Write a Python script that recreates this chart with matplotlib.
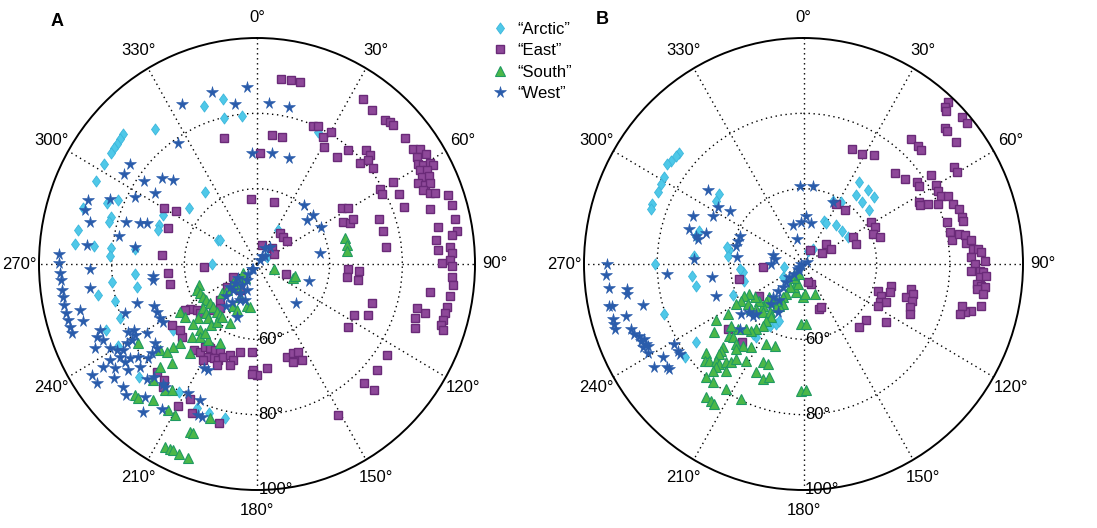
import numpy as np
import matplotlib
matplotlib.use("Agg")
import matplotlib.pyplot as plt
from matplotlib.lines import Line2D
from matplotlib.path import Path

plt.rcParams['font.family'] = ['Liberation Sans', 'DejaVu Sans']

# (angle in degrees, radius); radius axis runs 40..100
a_arctic = [(340.8, 84.5), (347.9, 84.7), (346.9, 79.7), (353.8, 79.5), (322.0, 85.5), (313.1, 90.4),
            (311.3, 90.2), (309.6, 90.1), (307.9, 90.0), (306.2, 89.8), (302.2, 89.7), (296.3, 89.5),
            (323.0, 63.8), (308.5, 63.8), (296.7, 68.9), (291.1, 68.8), (288.3, 68.6), (294.0, 81.8),
            (291.3, 84.4), (287.1, 90.2), (287.4, 82.1), (285.2, 82.1), (280.3, 90.2), (276.0, 90.3),
            (276.1, 85.2), (276.0, 80.5), (273.0, 80.4), (276.6, 73.8), (301.1, 52.4), (270.0, 52.3),
            (263.3, 80.3), (265.4, 73.7), (259.4, 73.7), (259.4, 84.5), (255.9, 80.3), (249.1, 80.4),
            (247.2, 85.1), (240.3, 84.2), (232.7, 68.9), (227.3, 84.1), (212.4, 80.1), (203.2, 81.7),
            (198.3, 81.7), (192.1, 81.9), (57.3, 43.3), (33.2, 50.8), (25.7, 79.0), (302.5, 52.0)]

a_east = [(7.7, 89.5), (10.8, 89.6), (13.7, 89.6), (33.7, 92.8), (37.7, 91.7), (42.7, 91.9), (44.1, 92.6),
          (45.5, 92.6), (50.6, 92.6), (54.7, 92.7), (55.8, 94.1), (57.0, 92.4), (57.9, 94.9), (59.0, 91.8),
          (60.1, 92.8), (60.7, 94.6), (61.5, 95.2), (60.9, 91.4), (61.8, 93.0), (62.9, 90.9), (63.6, 92.7),
          (64.3, 89.3), (65.6, 90.8), (65.8, 92.2), (66.8, 89.8), (68.3, 91.2), (68.9, 92.5), (70.7, 95.8),
          (73.7, 95.8), (77.7, 95.8), (78.8, 90.9), (82.6, 89.8), (81.1, 95.8), (81.8, 94.1), (85.0, 93.3),
          (85.8, 90.0), (87.0, 93.7), (88.8, 93.1), (89.8, 90.8), (90.7, 93.6), (93.6, 93.7), (95.9, 94.2),
          (99.0, 93.8), (99.0, 88.2), (102.2, 93.4), (104.2, 93.3), (106.2, 93.4), (107.7, 93.3),
          (108.8, 94.2), (108.3, 85.8), (111.5, 86.7), (105.8, 88.0), (105.0, 85.5),
          (22.7, 79.7), (24.8, 80.3), (28.2, 78.3), (30.5, 76.2), (30.2, 80.4), (37.8, 76.1), (39.5, 79.3),
          (46.4, 79.0), (44.7, 82.6), (47.1, 82.5), (48.0, 81.2), (51.6, 80.9), (59.7, 83.4), (59.7, 79.3),
          (61.7, 79.0), (64.7, 83.3), (69.4, 83.2), (73.0, 89.8), (57.6, 67.6), (59.5, 69.2), (64.8, 66.3),
          (67.1, 67.8), (65.5, 69.1), (70.5, 75.7), (75.8, 75.9), (82.9, 75.8), (92.8, 65.1), (97.8, 65.1),
          (93.7, 68.2), (98.6, 68.2), (108.2, 73.3), (113.8, 73.5), (116.8, 69.9), (123.9, 70.1),
          (124.1, 83.1), (130.2, 83.4), (137.2, 83.2), (136.1, 86.6), (151.0, 85.8),
          (344.8, 74.7), (1.5, 69.6), (6.7, 74.6), (11.7, 74.5), (354.4, 57.3), (16.3, 57.1), (37.9, 50.3),
          (45.4, 50.1), (53.2, 50.4), (43.6, 45.8), (14.6, 45.2), (60.1, 45.4), (108.7, 48.4), (267.3, 54.6),
          (275.2, 66.3), (300.1, 69.5), (302.3, 66.4), (291.1, 66.4), (264.1, 64.5), (257.5, 64.5),
          (237.3, 61.9), (238.4, 63.3), (233.7, 60.6), (230.2, 60.4), (224.5, 57.1), (220.8, 55.6),
          (235.4, 68.5), (227.0, 68.3), (230.5, 67.5), (217.5, 68.7), (214.0, 68.1), (213.1, 66.2),
          (209.9, 65.8), (207.0, 65.6), (203.6, 65.4), (208.6, 68.0), (205.6, 67.7), (202.6, 67.6),
          (200.7, 66.3), (197.0, 65.3), (194.3, 66.3), (191.4, 63.8), (183.6, 63.5), (195.4, 67.8),
          (202.5, 69.0), (210.1, 69.5), (182.0, 68.1), (180.2, 69.5), (182.9, 69.2), (174.4, 67.8),
          (161.6, 65.9), (157.1, 65.7), (153.9, 65.9), (154.3, 68.3), (158.9, 67.8), (207.3, 80.2),
          (209.9, 83.5), (204.4, 83.5), (194.1, 83.4), (219.6, 80.0), (223.8, 79.9), (218.4, 81.6),
          (242.4, 47.3), (234.1, 50.3), (226.7, 54.0), (214.3, 48.3)]

a_south = [(73.9, 65.2), (78.6, 65.2), (82.0, 65.1), (106.3, 45.0), (110.8, 50.7), (107.0, 51.0),
           (250.8, 57.0), (247.4, 58.0), (243.6, 57.5), (239.6, 57.2), (235.4, 56.9), (231.1, 56.6),
           (226.7, 56.5), (221.2, 56.9), (217.1, 56.9), (231.4, 58.9), (226.7, 59.1), (222.9, 59.7),
           (228.2, 61.6), (227.9, 63.6), (221.9, 63.5), (217.7, 60.5), (216.0, 58.9), (214.7, 57.0),
           (205.1, 57.4), (231.2, 52.4), (230.3, 50.8), (231.9, 48.3), (223.0, 48.2), (208.4, 49.9),
           (194.1, 51.6), (189.7, 51.5), (209.9, 53.0), (204.6, 53.4), (239.1, 64.7), (234.7, 64.2),
           (223.0, 66.4), (219.1, 64.9), (213.6, 64.2), (225.1, 69.9), (226.4, 71.8), (229.5, 75.1),
           (226.9, 74.1), (217.8, 70.0), (205.8, 63.4), (217.9, 63.3), (237.2, 78.9), (224.4, 78.2),
           (221.7, 75.3), (222.8, 82.0), (224.0, 88.4), (222.5, 88.4), (218.3, 86.0), (217.1, 82.0),
           (215.1, 80.9), (212.2, 85.8), (209.4, 86.0), (202.5, 88.2), (201.5, 88.3), (207.5, 94.7),
           (205.9, 94.7), (205.0, 94.5), (203.0, 94.7), (200.2, 94.8), (197.5, 83.0), (221.0, 45.0),
           (236.0, 44.5), (228.0, 46.5)]

a_west = [(356.6, 87.0), (344.8, 87.2), (334.0, 87.2), (351.9, 82.9), (4.6, 82.8), (11.8, 82.7),
          (325.9, 78.7), (357.5, 69.6), (7.8, 69.7), (17.5, 69.6), (307.1, 83.9), (303.1, 83.7),
          (305.2, 78.0), (311.0, 74.6), (313.9, 72.2), (303.9, 73.9), (298.0, 78.1), (290.0, 89.6),
          (293.0, 84.0), (286.8, 89.4), (283.7, 87.3), (287.2, 77.8), (288.5, 74.0), (289.9, 72.3),
          (281.2, 78.7), (276.1, 87.0), (277.8, 73.9), (272.9, 94.5), (270.2, 94.4), (267.4, 94.3),
          (265.5, 94.2), (262.7, 94.2), (260.7, 94.0), (258.4, 94.2), (256.0, 94.2), (254.0, 94.0),
          (252.1, 94.1), (250.2, 94.2), (268.3, 86.1), (262.0, 86.4), (255.9, 90.2), (252.3, 90.2),
          (252.5, 74.5), (250.2, 78.6), (263.6, 68.7), (261.6, 68.8), (248.4, 70.4), (245.3, 70.4),
          (241.7, 70.3), (239.3, 70.0), (247.9, 86.6), (246.4, 88.1), (244.5, 86.9), (243.3, 89.9),
          (241.1, 86.3), (239.4, 84.8), (243.0, 79.7), (242.8, 78.2), (240.8, 78.5), (239.7, 80.0),
          (239.6, 81.6), (238.2, 83.3), (236.9, 85.0), (234.5, 84.6), (234.5, 83.0), (233.0, 80.9),
          (238.8, 75.5), (233.1, 75.1), (231.1, 75.5), (230.7, 77.5), (230.1, 79.0), (229.7, 82.2),
          (237.8, 87.9), (237.2, 90.3), (234.7, 87.9), (231.6, 85.2), (232.4, 89.8), (228.5, 89.2),
          (237.0, 94.2), (234.3, 94.3), (225.0, 83.0), (223.6, 81.3), (219.1, 80.9), (217.8, 81.3),
          (221.2, 86.8), (226.1, 90.1), (218.6, 90.2), (214.2, 86.7), (208.9, 79.2), (203.5, 79.4),
          (207.8, 71.3), (205.5, 71.1), (201.9, 83.2), (200.6, 83.3), (201.8, 55.1), (199.0, 50.1),
          (211.1, 49.1), (223.3, 49.5), (230.9, 49.5), (213.7, 45.0), (219.8, 41.6), (36.0, 41.4),
          (27.6, 44.7), (38.0, 45.8), (39.4, 60.3), (50.0, 60.2), (49.5, 58.0), (61.1, 60.1),
          (80.2, 57.6), (107.4, 55.1), (134.2, 54.9), (233.3, 46.4), (230.1, 47.9), (216.9, 47.0),
          (223.8, 43.5), (206.1, 50.7), (215.0, 52.2), (202.1, 47.4), (225.0, 52.0), (218.0, 54.0),
          (30.0, 42.5), (45.0, 43.0), (228.0, 42.0)]

b_arctic = [(310.9, 85.2), (309.5, 85.2), (307.0, 85.5), (305.5, 85.7), (301.1, 84.5), (298.5, 84.4),
            (295.5, 84.2), (291.1, 84.3), (289.3, 84.2), (309.0, 69.6), (305.1, 69.2), (287.2, 69.8),
            (284.3, 70.3), (274.0, 70.1), (264.2, 70.5), (258.8, 70.0), (280.3, 60.6), (276.1, 60.8),
            (262.5, 56.7), (254.8, 56.8), (246.9, 60.9), (270.0, 80.5), (250.8, 80.5), (234.7, 76.0),
            (232.7, 80.6), (213.7, 63.4), (209.6, 58.8), (205.3, 57.6), (203.7, 56.4), (225.3, 53.8),
            (238.4, 46.7), (19.4, 43.6), (33.0, 44.8), (25.6, 52.7), (29.9, 52.5), (40.6, 53.7),
            (50.6, 53.7), (59.6, 54.0), (25.5, 58.6), (32.1, 59.4), (38.2, 63.3), (44.1, 63.1),
            (51.4, 62.9), (35.0, 66.5), (41.9, 66.4), (47.0, 66.2), (216.8, 63.2), (260.0, 45.3),
            (282.0, 61.5), (266.0, 57.5)]

b_east = [(42.6, 98.3), (42.9, 96.8), (43.8, 96.4), (48.0, 98.4), (49.9, 98.3), (47.0, 92.8), (48.2, 92.8),
          (52.0, 92.8), (41.6, 84.4), (44.9, 84.3), (46.7, 84.2), (23.6, 73.2), (28.7, 73.3), (33.6, 74.7),
          (57.9, 88.5), (59.8, 88.4), (45.9, 74.7), (50.8, 75.7), (54.9, 77.8), (56.7, 77.8), (55.9, 82.0),
          (59.8, 81.9), (62.1, 81.6), (64.2, 81.6), (66.6, 80.1), (62.6, 75.6), (63.6, 75.5), (65.0, 77.6),
          (65.6, 83.4), (68.8, 83.8), (71.1, 85.0), (74.1, 80.9), (74.1, 85.1), (75.5, 85.1), (77.9, 80.9),
          (81.0, 81.0), (79.4, 83.3), (80.1, 84.8), (82.8, 84.8), (82.1, 86.3), (85.1, 86.4), (85.2, 88.0),
          (86.3, 88.6), (87.6, 85.9), (90.0, 86.8), (89.0, 89.6), (92.2, 85.9), (92.1, 88.2), (92.6, 89.2),
          (94.2, 88.3), (93.5, 90.1), (96.4, 87.6), (96.8, 89.0), (97.1, 90.0), (97.9, 87.8), (99.3, 89.6),
          (103.1, 89.7), (105.1, 87.5), (106.2, 85.9), (104.4, 84.6), (107.3, 84.7), (29.2, 58.2),
          (38.3, 58.1), (59.0, 61.6), (63.6, 61.8), (67.2, 60.6), (71.1, 62.0), (62.3, 55.3), (69.8, 55.3),
          (49.5, 48.2), (62.2, 48.6), (61.2, 45.8), (26.0, 44.1), (257.1, 58.0), (265.4, 51.1),
          (158.4, 45.7), (160.6, 52.6), (157.3, 52.5), (109.2, 61.6), (111.5, 62.9), (103.6, 64.7),
          (107.6, 64.8), (116.1, 63.2), (114.3, 64.8), (118.6, 63.2), (107.5, 69.3), (102.6, 70.2),
          (105.0, 70.9), (108.2, 71.1), (111.6, 71.2), (114.6, 71.9), (131.2, 62.6), (137.7, 62.7),
          (124.6, 67.3), (235.5, 54.8), (230.1, 67.0), (218.9, 66.7), (166.2, 45.0)]

b_south = [(182.2, 55.9), (177.5, 55.9), (159.0, 48.4), (181.3, 48.8), (177.9, 48.0), (194.9, 47.8),
           (202.0, 46.7), (196.8, 45.5), (211.5, 47.3), (210.4, 49.3), (212.9, 50.5), (208.3, 52.0),
           (210.7, 52.9), (217.7, 52.3), (226.6, 52.8), (225.0, 54.4), (225.0, 55.7), (231.3, 55.5),
           (236.7, 56.0), (241.6, 56.8), (242.6, 58.2), (240.4, 59.7), (240.1, 61.2), (235.3, 58.6),
           (230.2, 58.6), (227.5, 57.6), (220.9, 56.9), (216.0, 55.8), (213.1, 53.7), (212.1, 56.7),
           (214.2, 58.2), (214.1, 59.8), (216.9, 61.6), (218.9, 62.7), (222.2, 63.3), (226.1, 65.0),
           (230.4, 65.7), (237.3, 64.6), (237.9, 68.2), (233.4, 70.4), (226.9, 67.8), (224.8, 67.5),
           (220.9, 68.1), (225.0, 71.3), (217.4, 67.3), (219.2, 69.1), (224.5, 72.2), (223.9, 73.2),
           (228.6, 75.6), (226.5, 77.3), (225.1, 76.4), (222.9, 75.1), (221.0, 75.1), (219.1, 73.6),
           (217.2, 72.8), (216.1, 71.2), (211.4, 70.1), (203.0, 68.4), (200.3, 68.3), (204.3, 71.6),
           (200.0, 72.5), (197.2, 71.5), (216.8, 75.4), (221.1, 76.4), (221.2, 77.6), (221.6, 80.2),
           (218.3, 80.0), (212.6, 79.4), (205.5, 79.7), (217.0, 84.3), (214.9, 84.2), (213.3, 84.5),
           (181.0, 73.6), (178.8, 73.5), (212.9, 66.3), (205.7, 63.5), (200.0, 63.1), (215.0, 44.5),
           (222.0, 44.0), (205.0, 43.0)]

b_west = [(270.0, 93.6), (267.0, 94.0), (263.1, 93.6), (258.2, 94.4), (258.0, 93.4), (254.3, 94.1),
          (253.0, 94.2), (251.4, 94.3), (262.2, 88.8), (260.8, 89.0), (254.2, 90.3), (256.1, 85.3),
          (249.9, 90.3), (248.1, 89.9), (247.1, 88.8), (245.4, 88.9), (245.5, 87.9), (243.8, 88.0),
          (242.9, 87.6), (243.3, 89.2), (241.1, 88.7), (236.1, 89.2), (237.2, 85.8), (233.6, 86.2),
          (232.8, 86.1), (239.0, 81.2), (236.1, 81.2), (234.7, 81.4), (306.8, 72.7), (293.0, 72.7),
          (297.3, 67.9), (302.6, 67.9), (304.9, 64.5), (286.6, 72.6), (284.3, 70.3), (282.8, 69.7),
          (286.9, 67.9), (293.2, 59.0), (289.0, 59.0), (284.9, 59.0), (272.5, 69.9), (265.8, 77.3),
          (262.1, 65.3), (250.6, 65.3), (276.0, 58.4), (357.0, 60.8), (7.1, 61.0), (3.1, 52.8),
          (344.4, 50.8), (356.9, 51.1), (11.0, 51.0), (344.7, 46.8), (287.0, 48.6), (279.3, 48.0),
          (270.0, 48.9), (270.0, 40.6), (231.0, 42.1), (222.8, 43.7), (227.4, 45.2), (223.8, 46.8),
          (222.6, 48.4), (224.6, 50.0), (214.2, 51.7), (223.7, 52.2), (225.4, 59.5), (232.1, 61.7),
          (229.1, 59.6), (224.4, 58.6), (225.3, 64.6), (208.7, 54.6), (220.0, 53.8), (26.0, 58.2),
          (240.0, 41.5), (215.0, 42.0), (60.0, 41.0)]

theta_ticks = list(range(0, 360, 30))
r_rings = [60, 80]
r_labels = [60, 80, 100]
series_names = ['\u201cArctic\u201d', '\u201cEast\u201d', '\u201cSouth\u201d', '\u201cWest\u201d']

diamond = Path([(0, 1), (0.72, 0), (0, -1), (-0.72, 0), (0, 1)],
               [Path.MOVETO, Path.LINETO, Path.LINETO, Path.LINETO, Path.CLOSEPOLY])

styles = [
    dict(marker=diamond, ms=8, mfc='#4fc8e8', mec='#3bb6dc', mew=0.6),
    dict(marker='s', ms=5.5, mfc='#8e4899', mec='#6a2a78', mew=1.0),
    dict(marker='^', ms=7, mfc='#4cb848', mec='#1f9a62', mew=0.8),
    dict(marker='*', ms=8.5, mfc='#2a5cab', mec='#2a5cab', mew=0.4),
]

fig = plt.figure(figsize=(10.97, 5.28), dpi=100)


def panel(rect, groups, letter, letter_xy):
    ax = fig.add_axes(rect, projection='polar')
    ax.set_aspect('auto')
    ax.set_theta_zero_location('N')
    ax.set_theta_direction(-1)
    ax.set_rlim(40, 100)
    ax.set_thetagrids(theta_ticks, labels=[])
    ax.set_rgrids(r_rings, labels=[])
    ax.grid(True, color='k', ls=(0, (1, 2.6)), lw=1.0)
    ax.spines['polar'].set_linewidth(1.4)
    ax.tick_params(length=0)
    for pts, st in zip(groups, styles):
        th = np.radians([p[0] for p in pts])
        rr = [p[1] for p in pts]
        ax.plot(th, rr, ls='none', clip_on=False, **st)
    for t in theta_ticks:
        ax.text(np.radians(t), 105.4, f'{t}\u00b0', ha='center', va='center', fontsize=12)
    for r in r_labels:
        ax.annotate(f'{r}\u00b0', xy=(np.pi, r), xytext=(1, 0), textcoords='offset points',
                    ha='left', va='center', fontsize=12)
    fig.text(letter_xy[0], letter_xy[1], letter, fontsize=13, fontweight='bold',
             ha='center', va='center')
    return ax


panel([39 / 1097, 38 / 528, 436 / 1097, 452 / 528], [a_arctic, a_east, a_south, a_west], 'A', (57 / 1097, 1 - 22 / 528))
panel([584 / 1097, 38 / 528, 439 / 1097, 452 / 528], [b_arctic, b_east, b_south, b_west], 'B', (602 / 1097, 1 - 20 / 528))

handles = [Line2D([], [], ls='none', **st) for st in styles]
fig.legend(handles, series_names, loc='upper left', bbox_to_anchor=(492 / 1097, 1 - 22 / 528),
           frameon=False, handlelength=1.0, handletextpad=0.5, labelspacing=0.38,
           borderpad=0, borderaxespad=0, fontsize=12)

fig.savefig('out.png', dpi=100)
